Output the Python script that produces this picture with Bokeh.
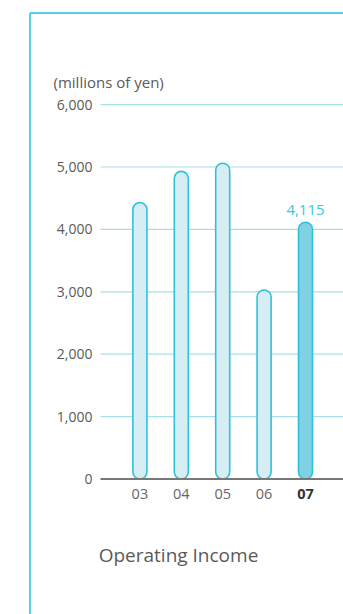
from bokeh.plotting import figure
from bokeh.models import Range1d, ColumnDataSource
from bokeh.core.properties import value
from bokeh.embed import file_html
from bokeh.resources import INLINE

# Operating income, millions of yen
years = ["03", "04", "05", "06", "07"]
income = [4430, 4930, 5060, 3030, 4115]
y_ticks = [0, 1000, 2000, 3000, 4000, 5000, 6000]
y_tick_labels = ["0", "1,000", "2,000", "3,000", "4,000", "5,000", "6,000"]
unit_label = "(millions of yen)"
title = "Operating Income"

W, H = 343, 614
# pixel layout of the panel
X0_PX, STEP_PX = 139.4, 41.4      # first bar centre, bar pitch
Y0_PX, PER_UNIT = 478.5, 0.0624   # baseline, pixels per million yen


def dx(px):
    return (px - X0_PX) / STEP_PX


def dy(py):
    return (Y0_PX - py) / PER_UNIT


p = figure(width=W, height=H, output_backend="svg", toolbar_location=None,
           x_range=Range1d(dx(0), dx(W)), y_range=Range1d(dy(H), dy(0)),
           min_border=0, outline_line_color=None)
p.axis.visible = False
p.grid.visible = False
p.background_fill_color = "white"
p.border_fill_color = "white"

FONT = value("Open Sans")
CYAN = "#2cc3da"
GRID = "#a6dfea"
TEXT = "#5a5a5a"

# panel border (left and top)
p.segment(x0=[dx(29.5), dx(29.5)], y0=[dy(12.5), dy(12.5)],
          x1=[dx(29.5), dx(W)], y1=[dy(H), dy(12.5)],
          line_color="#55d2e2", line_width=2)

# horizontal gridlines
grid_y = y_ticks[1:]
p.segment(x0=[dx(100)] * len(grid_y), y0=grid_y, x1=[dx(W)] * len(grid_y), y1=grid_y,
          line_color=GRID, line_width=1.2)

# bars as rounded pills
xs = list(range(len(years)))
fills = ["#d6eef3"] * (len(years) - 1) + ["#80d1e3"]
src = ColumnDataSource(dict(x=xs, top=income, fill=fills))
p.vbar(x="x", top="top", bottom=0, width=14 / STEP_PX, source=src,
       fill_color="fill", line_color=CYAN, line_width=1.6, border_radius=7)

# baseline
p.segment(x0=[dx(100)], y0=[0], x1=[dx(W)], y1=[0], line_color="#777777", line_width=2)

# y tick labels
p.text(x=[dx(92)] * len(y_ticks), y=y_ticks, text=y_tick_labels,
       text_align="right", text_baseline="middle", text_font=FONT,
       text_font_size="14px", text_color=TEXT)

# unit label
p.text(x=[dx(53)], y=[dy(81)], text=[unit_label], text_align="left",
       text_baseline="middle", text_font=FONT, text_font_size="15px",
       text_color=TEXT)

# category labels, latest year bold
p.text(x=xs[:-1], y=[dy(493)] * (len(xs) - 1), text=years[:-1], text_align="center",
       text_baseline="middle", text_font=FONT, text_font_size="14.5px",
       text_color="#666666")
p.text(x=[xs[-1]], y=[dy(493)], text=[years[-1]], text_align="center",
       text_baseline="middle", text_font=FONT, text_font_size="14.5px",
       text_font_style="bold", text_color="#333333")

# value label on the latest bar
p.text(x=[xs[-1]], y=[income[-1]], y_offset=-12, text=[f"{income[-1]:,}"],
       text_align="center", text_baseline="middle", text_font=FONT,
       text_font_size="15px", text_color="#3cc6dc")

# chart title
p.text(x=[dx(178)], y=[dy(554)], text=[title], text_align="center",
       text_baseline="middle", text_font=FONT, text_font_size="19px",
       text_color=TEXT)

open("out.html", "w").write(file_html(p, INLINE))
